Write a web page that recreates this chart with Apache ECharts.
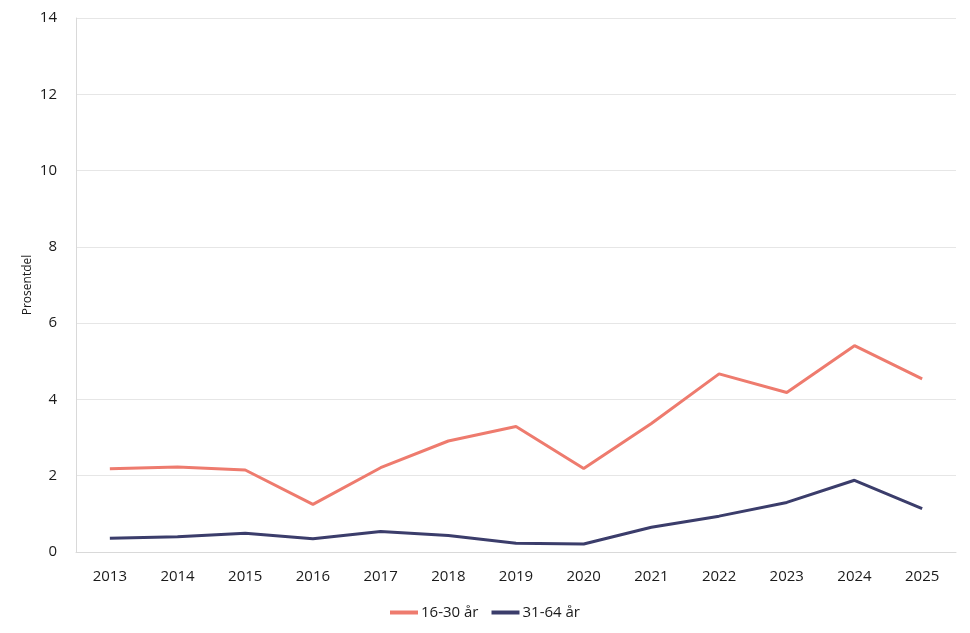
<!DOCTYPE html>
<html><head><meta charset="utf-8">
<script src="https://cdn.jsdelivr.net/npm/echarts@6/dist/echarts.min.js"></script>
<style>html,body{margin:0;padding:0;background:#fff}#c{width:970px;height:633px}</style>
</head><body><div id="c"></div>
<script>
const years = ['2013','2014','2015','2016','2017','2018','2019','2020','2021','2022','2023','2024','2025'];
const young = [2.18,2.23,2.15,1.25,2.21,2.91,3.29,2.19,3.37,4.67,4.18,5.41,4.54];
const adult = [0.36,0.40,0.49,0.35,0.54,0.43,0.23,0.21,0.65,0.94,1.30,1.88,1.14];
const seriesNames = ['16-30 år','31-64 år'];
const chart = echarts.init(document.getElementById('c'));
const font = 'Open Sans';
chart.setOption({
  animation:false,
  textStyle:{fontFamily:font},
  grid:{left:76,right:14,top:18,bottom:81},
  legend:{top:600,left:'center',itemWidth:28,itemHeight:4,itemGap:13,icon:'rect',
    textStyle:{fontFamily:font,fontSize:15,color:'#1a1a1a',padding:[0,0,0,-2]},data:seriesNames},
  xAxis:{type:'category',data:years,boundaryGap:true,
    axisLine:{lineStyle:{color:'#d9d9d9'}},axisTick:{show:false},
    axisLabel:{fontFamily:font,fontSize:15,color:'#1a1a1a',margin:17}},
  yAxis:{type:'value',min:0,max:14,interval:2,name:'Prosentdel',nameLocation:'middle',nameGap:42,
    nameMoveOverlap:false,
    nameTextStyle:{fontFamily:font,fontSize:12,color:'#1a1a1a'},
    axisLine:{show:true,lineStyle:{color:'#d9d9d9'}},axisTick:{show:false},
    splitLine:{lineStyle:{color:'#e6e6e6'}},
    axisLabel:{fontFamily:font,fontSize:15,color:'#1a1a1a',margin:19}},
  series:[
    {name:seriesNames[0],type:'line',data:young,symbol:'none',lineStyle:{width:3,color:'#EE7B6E'},itemStyle:{color:'#EE7B6E'}},
    {name:seriesNames[1],type:'line',data:adult,symbol:'none',lineStyle:{width:3,color:'#3B3D6B'},itemStyle:{color:'#3B3D6B'}}
  ]
});
</script></body></html>
